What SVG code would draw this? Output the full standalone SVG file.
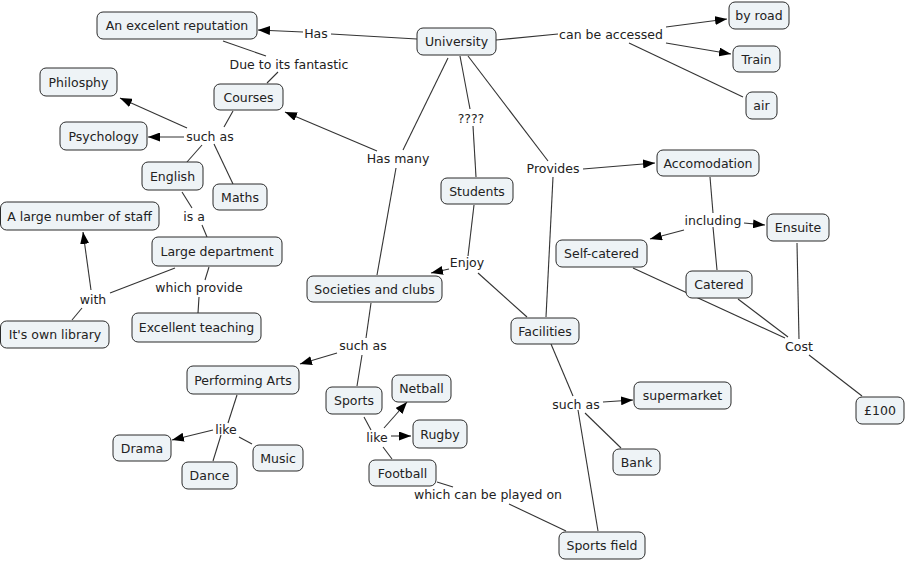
<svg xmlns="http://www.w3.org/2000/svg" width="906" height="563" viewBox="0 0 906 563">
<style>
.n rect{fill:#eef3f6;stroke:#2b2b2b;stroke-width:1}
text{font-family:"DejaVu Sans",Verdana,sans-serif;font-size:12.5px;fill:#222;text-anchor:middle;dominant-baseline:central}
.c line{stroke:#333;stroke-width:1.1;fill:none}
.c line.a{marker-end:url(#arr)}
</style>
<defs>
<marker id="arr" viewBox="0 0 12 9" refX="12" refY="4.5" markerWidth="12" markerHeight="9" markerUnits="userSpaceOnUse" orient="auto"><path d="M0,0 L12,4.5 L0,9 z" fill="#000"/></marker>
</defs>
<rect width="906" height="563" fill="#fff"/>
<g id="connectors" class="c">
<line x1="417" y1="39" x2="331" y2="34"/>
<line class="a" x1="303" y1="32" x2="258" y2="30"/>
<line x1="223" y1="41" x2="266" y2="56"/>
<line x1="278" y1="72" x2="267" y2="83"/>
<line x1="496" y1="40" x2="558" y2="34"/>
<line class="a" x1="666" y1="27" x2="727" y2="19"/>
<line class="a" x1="666" y1="43" x2="731" y2="54"/>
<line x1="629" y1="43" x2="743" y2="97"/>
<line x1="448" y1="58" x2="403" y2="150"/>
<line class="a" x1="377" y1="151" x2="285" y2="112"/>
<line x1="396" y1="168" x2="377" y2="275"/>
<line x1="460" y1="56" x2="470" y2="109"/>
<line x1="473" y1="126" x2="476" y2="177"/>
<line x1="468" y1="56" x2="548" y2="161"/>
<line class="a" x1="583" y1="169" x2="655" y2="163"/>
<line x1="553" y1="177" x2="546" y2="317"/>
<line x1="474" y1="205" x2="468" y2="256"/>
<line class="a" x1="449" y1="269" x2="431" y2="273"/>
<line x1="478" y1="273" x2="527" y2="317"/>
<line x1="371" y1="303" x2="366" y2="338"/>
<line class="a" x1="337" y1="353" x2="300" y2="364"/>
<line x1="362" y1="355" x2="357" y2="386"/>
<line x1="237" y1="395" x2="228" y2="423"/>
<line class="a" x1="213" y1="430" x2="172" y2="440"/>
<line x1="221" y1="435" x2="213" y2="461"/>
<line x1="239" y1="437" x2="252" y2="444"/>
<line x1="364" y1="417" x2="371" y2="430"/>
<line class="a" x1="384" y1="428" x2="407" y2="402"/>
<line class="a" x1="391" y1="436" x2="411" y2="436"/>
<line x1="383" y1="447" x2="392" y2="459"/>
<line x1="437" y1="482" x2="453" y2="487"/>
<line x1="509" y1="504" x2="566" y2="531"/>
<line x1="551" y1="344" x2="573" y2="396"/>
<line class="a" x1="603" y1="402" x2="633" y2="400"/>
<line x1="585" y1="413" x2="621" y2="448"/>
<line x1="578" y1="410" x2="598" y2="531"/>
<line x1="710" y1="177" x2="713" y2="213"/>
<line class="a" x1="744" y1="223" x2="765" y2="225"/>
<line class="a" x1="684" y1="230" x2="650" y2="239"/>
<line x1="713" y1="227" x2="717" y2="270"/>
<line x1="633" y1="268" x2="785" y2="338"/>
<line x1="738" y1="299" x2="788" y2="337"/>
<line x1="797" y1="243" x2="799" y2="339"/>
<line x1="809" y1="355" x2="862" y2="396"/>
<line x1="233" y1="111" x2="224" y2="127"/>
<line class="a" x1="187" y1="128" x2="120" y2="98"/>
<line class="a" x1="184" y1="137" x2="148" y2="137"/>
<line x1="202" y1="145" x2="187" y2="162"/>
<line x1="214" y1="144" x2="233" y2="184"/>
<line x1="182" y1="192" x2="192" y2="208"/>
<line x1="202" y1="225" x2="207" y2="237"/>
<line x1="209" y1="267" x2="205" y2="280"/>
<line x1="199" y1="297" x2="198" y2="313"/>
<line x1="175" y1="268" x2="110" y2="293"/>
<line class="a" x1="91" y1="290" x2="83" y2="232"/>
<line x1="82" y1="308" x2="72" y2="320"/>
</g>
<g id="labels">
<text x="316" y="33">Has</text>
<text x="289" y="64">Due to its fantastic</text>
<text x="611" y="34">can be accessed</text>
<text x="210" y="136">such as</text>
<text x="194" y="216">is a</text>
<text x="199" y="287">which provide</text>
<text x="93" y="299">with</text>
<text x="471" y="118">????</text>
<text x="398" y="158">Has many</text>
<text x="553" y="168">Provides</text>
<text x="467" y="262">Enjoy</text>
<text x="713" y="220">including</text>
<text x="799" y="346">Cost</text>
<text x="363" y="345">such as</text>
<text x="226" y="429">like</text>
<text x="377" y="437">like</text>
<text x="576" y="404">such as</text>
<text x="488" y="494">which can be played on</text>
</g>
<g id="rep" class="n"><rect x="97" y="12" width="160" height="27" rx="6"/><text x="177" y="25.5">An excelent reputation</text></g>
<g id="university" class="n"><rect x="417" y="28" width="79" height="27" rx="6"/><text x="456.5" y="41.5">University</text></g>
<g id="courses" class="n"><rect x="214" y="84" width="69" height="26" rx="6"/><text x="248.5" y="97">Courses</text></g>
<g id="philosphy" class="n"><rect x="40" y="68" width="77" height="28" rx="6"/><text x="78.5" y="82">Philosphy</text></g>
<g id="psychology" class="n"><rect x="60" y="122" width="87" height="28" rx="6"/><text x="103.5" y="136">Psychology</text></g>
<g id="english" class="n"><rect x="142" y="162" width="61" height="28" rx="6"/><text x="172.5" y="176">English</text></g>
<g id="maths" class="n"><rect x="213" y="184" width="54" height="26" rx="6"/><text x="240" y="197">Maths</text></g>
<g id="staff" class="n"><rect x="0.5" y="202" width="158.5" height="28" rx="6"/><text x="79.5" y="216">A large number of staff</text></g>
<g id="largedept" class="n"><rect x="152" y="237" width="130" height="29" rx="6"/><text x="217" y="251.5">Large department</text></g>
<g id="library" class="n"><rect x="0.5" y="321" width="108.5" height="27" rx="6"/><text x="55" y="334.5">It's own library</text></g>
<g id="teaching" class="n"><rect x="132" y="313" width="129" height="29" rx="6"/><text x="196.5" y="327.5">Excellent teaching</text></g>
<g id="byroad" class="n"><rect x="729" y="2" width="60" height="27" rx="6"/><text x="759" y="15.5">by road</text></g>
<g id="train" class="n"><rect x="733" y="46" width="47" height="26" rx="6"/><text x="756.5" y="59">Train</text></g>
<g id="air" class="n"><rect x="746" y="92" width="31" height="27" rx="6"/><text x="761.5" y="105.5">air</text></g>
<g id="accomodation" class="n"><rect x="657" y="150" width="102" height="26" rx="6"/><text x="708" y="163">Accomodation</text></g>
<g id="ensuite" class="n"><rect x="767" y="214" width="62" height="27" rx="6"/><text x="798" y="227.5">Ensuite</text></g>
<g id="selfcatered" class="n"><rect x="556" y="240" width="91" height="27" rx="6"/><text x="601.5" y="253.5">Self-catered</text></g>
<g id="catered" class="n"><rect x="686" y="271" width="66" height="27" rx="6"/><text x="719" y="284.5">Catered</text></g>
<g id="facilities" class="n"><rect x="511" y="318" width="68" height="26" rx="6"/><text x="545" y="331">Facilities</text></g>
<g id="supermarket" class="n"><rect x="634" y="382" width="97" height="27" rx="6"/><text x="682.5" y="395.5">supermarket</text></g>
<g id="price" class="n"><rect x="856" y="397" width="48" height="27" rx="6"/><text x="880" y="410.5">£100</text></g>
<g id="students" class="n"><rect x="441" y="178" width="72" height="26" rx="6"/><text x="477" y="191">Students</text></g>
<g id="societies" class="n"><rect x="307" y="276" width="135" height="26" rx="6"/><text x="374.5" y="289">Societies and clubs</text></g>
<g id="performing" class="n"><rect x="187" y="366" width="112" height="28" rx="6"/><text x="243" y="380">Performing Arts</text></g>
<g id="sports" class="n"><rect x="326" y="387" width="56" height="27" rx="6"/><text x="354" y="400.5">Sports</text></g>
<g id="netball" class="n"><rect x="392" y="375" width="59" height="27" rx="6"/><text x="421.5" y="388.5">Netball</text></g>
<g id="rugby" class="n"><rect x="413" y="420" width="54" height="28" rx="6"/><text x="440" y="434">Rugby</text></g>
<g id="football" class="n"><rect x="369" y="460" width="67" height="26" rx="6"/><text x="402.5" y="473">Football</text></g>
<g id="drama" class="n"><rect x="113" y="435" width="58" height="26" rx="6"/><text x="142" y="448">Drama</text></g>
<g id="dance" class="n"><rect x="182" y="462" width="55" height="27" rx="6"/><text x="209.5" y="475.5">Dance</text></g>
<g id="music" class="n"><rect x="253" y="445" width="50" height="26" rx="6"/><text x="278" y="458">Music</text></g>
<g id="bank" class="n"><rect x="613" y="449" width="47" height="26" rx="6"/><text x="636.5" y="462">Bank</text></g>
<g id="sportsfield" class="n"><rect x="559" y="532" width="86" height="27" rx="6"/><text x="602" y="545.5">Sports field</text></g>
</svg>
